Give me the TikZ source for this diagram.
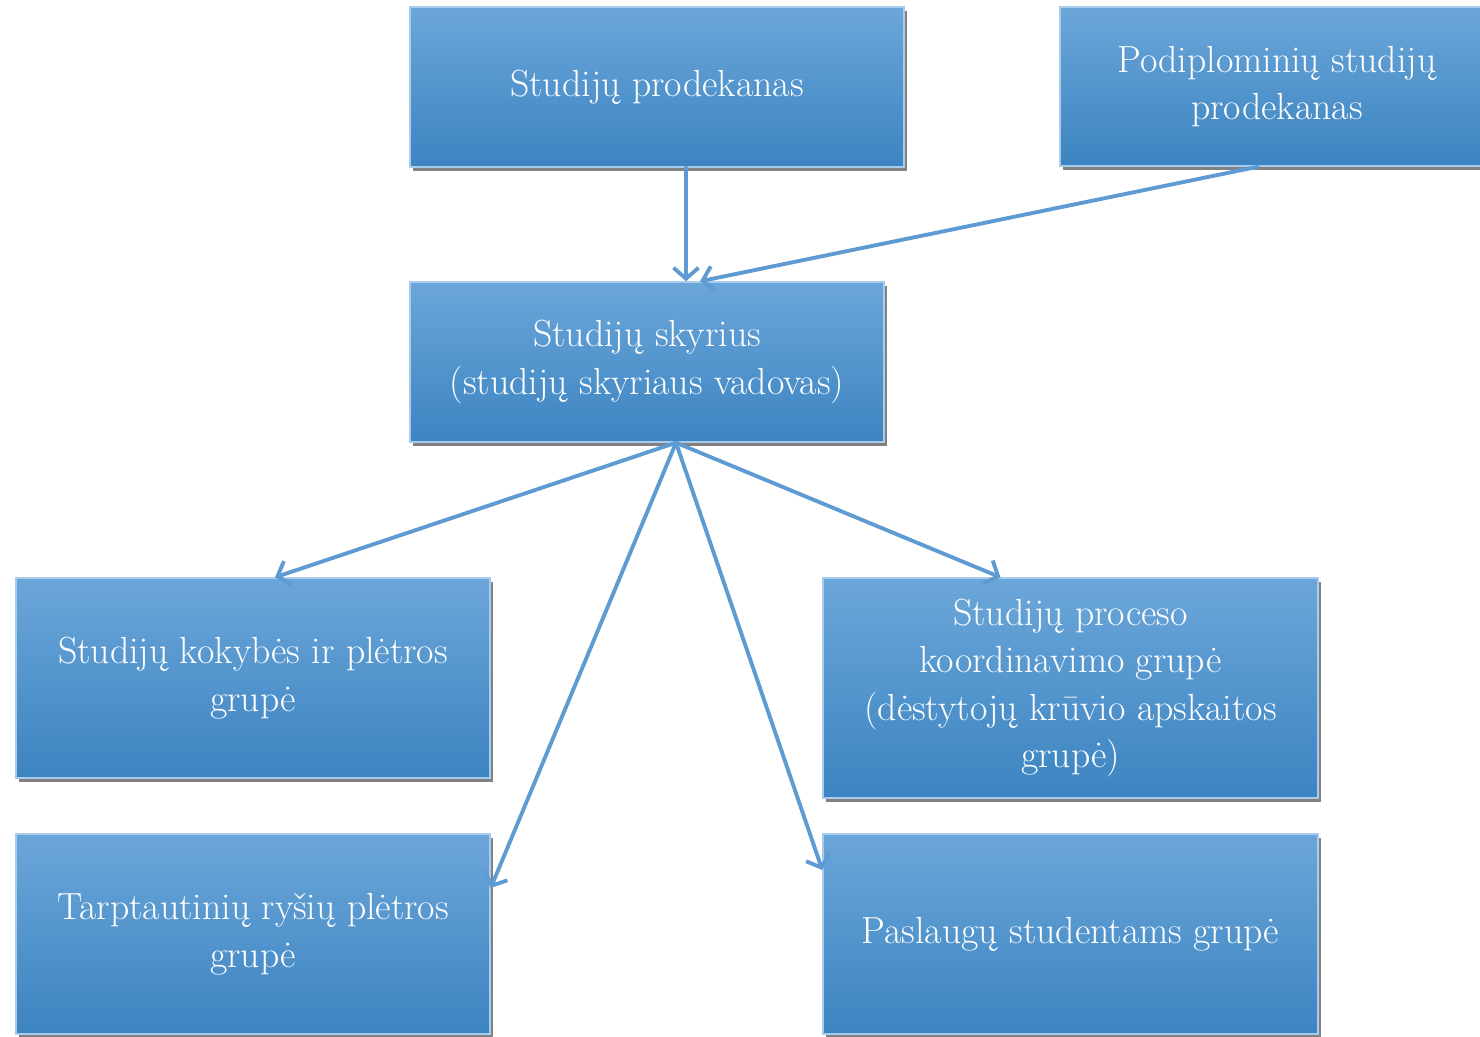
\documentclass[tikz,border=0pt]{standalone}
\usepackage{tikz}
\usetikzlibrary{arrows.meta,shadows}
\definecolor{boxtop}{HTML}{6BA6D9}
\definecolor{boxbot}{HTML}{3C84C1}
\definecolor{edge}{HTML}{A8CDEC}
\definecolor{link}{HTML}{5E9BD2}
\tikzset{
  box/.style={rectangle, top color=boxtop, bottom color=boxbot, draw=edge, line width=0.8pt,
    text=white, align=center, inner sep=0pt, font=\fontsize{21.5}{27}\selectfont,
    drop shadow={shadow xshift=1.5pt, shadow yshift=-2pt, opacity=0.7, fill=black!70}},
  conn/.style={draw=link, line width=2.2pt, line cap=round,
    -{Straight Barb[length=2.2mm,width=5mm]}},
}

\begin{document}
\begin{tikzpicture}
  \useasboundingbox (0,0) rectangle (29.6,-20.72);
  \clip (0,0) rectangle (29.6,-20.72);
  % top row
  \node[box, minimum width=9.88cm, minimum height=3.2cm] (prodek) at (13.14,-1.74) {Studijų prodekanas};
  \node[box, minimum width=8.68cm, minimum height=3.18cm] (podipl) at (25.54,-1.73) {Podiplominių studijų\\prodekanas};
  % middle
  \node[box, minimum width=9.48cm, minimum height=3.2cm] (skyrius) at (12.94,-7.24) {Studijų skyrius\\(studijų skyriaus vadovas)};
  % groups
  \node[box, minimum width=9.48cm, minimum height=4cm] (kokybe) at (5.06,-13.56) {Studijų kokybės ir plėtros\\grupė};
  \node[box, minimum width=9.9cm, minimum height=4.4cm] (procesas) at (21.41,-13.76) {Studijų proceso\\koordinavimo grupė\\(dėstytojų krūvio apskaitos\\grupė)};
  \node[box, minimum width=9.48cm, minimum height=4cm] (tarpt) at (5.06,-18.68) {Tarptautinių ryšių plėtros\\grupė};
  \node[box, minimum width=9.9cm, minimum height=4cm] (paslaug) at (21.41,-18.68) {Paslaugų studentams grupė};
  \coordinate (hub) at ([xshift=0.58cm]skyrius.south);
  % connectors
  \draw[conn] ([xshift=0.58cm]prodek.south) -- ([xshift=0.78cm]skyrius.north);
  \draw[conn] ([xshift=-0.38cm]podipl.south) -- ([xshift=1.06cm]skyrius.north);
  \draw[conn] (hub) -- ([xshift=0.44cm]kokybe.north);
  \draw[conn] (hub) -- ([xshift=-1.4cm]procesas.north);
  \draw[conn] (hub) -- ([yshift=0.92cm]tarpt.east);
  \draw[conn] (hub) -- ([yshift=1.28cm]paslaug.west);
\end{tikzpicture}
\end{document}
